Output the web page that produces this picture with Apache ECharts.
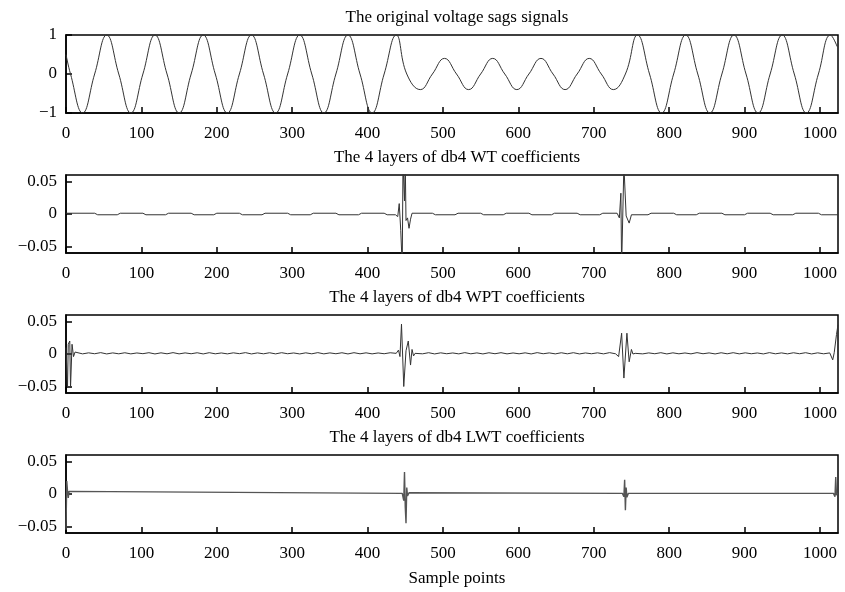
<!DOCTYPE html>
<html>
<head>
<meta charset="utf-8">
<title>Voltage sags and wavelet coefficients</title>
<script src="https://cdn.jsdelivr.net/npm/echarts@6/dist/echarts.min.js"></script>
<style>
  html, body { margin: 0; padding: 0; background: #fff; }
  #myChart { width: 845px; height: 592px; }
</style>
</head>
<body>
<div id="myChart"></div>
<script>
// tick labels
const sampleTicks = [0, 100, 200, 300, 400, 500, 600, 700, 800, 900, 1000];
const voltTicks = [-1, 0, 1];
const coefTicks = [-0.05, 0, 0.05];

const panelTitles = [
  "The original voltage sags signals",
  "The 4 layers of db4 WT coefficients",
  "The 4 layers of db4 WPT coefficients",
  "The 4 layers of db4 LWT coefficients"
];
const xName = "Sample points";

// original signal: peaks, troughs and zero crossings
const voltage = [
  [0, 0.5], [6, 0], [22, -1], [38, 0], [54, 1], [70, 0], [86, -1], [102, 0], [118, 1],
  [134, 0], [150, -1], [166, 0], [182, 1], [198, 0], [214, -1], [230, 0], [246, 1],
  [262, 0], [278, -1], [294, 0], [310, 1], [326, 0], [342, -1], [358, 0], [374, 1],
  [390, 0], [406, -1], [422, 0], [438, 1], [452, 0],
  [470, -0.4], [486, 0], [502, 0.4], [518, 0], [534, -0.4], [550, 0], [566, 0.4],
  [582, 0], [598, -0.4], [614, 0], [630, 0.4], [646, 0], [662, -0.4], [678, 0],
  [694, 0.4], [710, 0], [726, -0.4], [742, 0],
  [758, 1], [774, 0], [790, -1], [806, 0], [822, 1], [838, 0], [854, -1], [870, 0],
  [886, 1], [902, 0], [918, -1], [934, 0], [950, 1], [966, 0], [982, -1], [998, 0],
  [1014, 1], [1023, 0.7]
];

// WT coefficients
const wtCoef = [
  [0, 0.0012], [38, 0.0012], [42, -0.0012], [68, -0.0012], [72, 0.0012],
  [102, 0.0012], [106, -0.0012], [132, -0.0012], [136, 0.0012],
  [166, 0.0012], [170, -0.0012], [196, -0.0012], [200, 0.0012],
  [230, 0.0012], [234, -0.0012], [260, -0.0012], [264, 0.0012],
  [294, 0.0012], [298, -0.0012], [324, -0.0012], [328, 0.0012],
  [358, 0.0012], [362, -0.0012], [388, -0.0012], [392, 0.0012],
  [422, 0.0012], [426, -0.0012], [437, -0.0012],
  [440, -0.004], [442, 0.016], [444, -0.025], [446, -0.08], [447, 0.08], [449, 0.02],
  [450, 0.08], [451, -0.01], [453, -0.006], [455, -0.022], [457, -0.008], [459, 0.0012],
  [486, 0.0012], [490, -0.0012], [516, -0.0012], [520, 0.0012],
  [550, 0.0012], [554, -0.0012], [580, -0.0012], [584, 0.0012],
  [614, 0.0012], [618, -0.0012], [644, -0.0012], [648, 0.0012],
  [678, 0.0012], [682, -0.0012], [708, -0.0012], [712, 0.0012], [731, 0.0012],
  [734, -0.006], [736, 0.032], [737, -0.08], [740, 0.075], [743, -0.003], [745, -0.002],
  [747, -0.014], [750, -0.0012],
  [772, -0.0012], [776, 0.0012], [806, 0.0012], [810, -0.0012], [836, -0.0012], [840, 0.0012],
  [870, 0.0012], [874, -0.0012], [900, -0.0012], [904, 0.0012],
  [934, 0.0012], [938, -0.0012], [964, -0.0012], [968, 0.0012],
  [998, 0.0012], [1002, -0.0012], [1024, -0.0012]
];

// WPT coefficients: transients and the small ripple between them
const wptStart = [[0, 0.01], [2, -0.052], [3, 0.015], [5, 0.02], [6, -0.052], [8, 0.015], [10, -0.004], [12, 0.003]];
const wptRippleA = [
  0.0020, 0.0002, 0.0018, 0.0004, 0.0021, 0.0001, 0.0017, 0.0003, 0.0019, 0.0002,
  0.0016, 0.0005, 0.0020, 0.0001, 0.0018, 0.0003, 0.0021, 0.0002, 0.0017, 0.0004,
  0.0019, 0.0001, 0.0020, 0.0003, 0.0016, 0.0002, 0.0018, 0.0005, 0.0021, 0.0001,
  0.0017, 0.0003, 0.0019, 0.0002, 0.0020, 0.0004, 0.0016, 0.0001, 0.0018, 0.0003,
  0.0021, 0.0002, 0.0017, 0.0004, 0.0019, 0.0001, 0.0020, 0.0003, 0.0018, 0.0002,
  0.0016, 0.0004, 0.0019
];
const wptSag1 = [[438, 0.001], [441, 0.006], [443, -0.004], [445, 0.046], [448, -0.05], [451, 0.005], [454, 0.02], [457, -0.017], [459, 0.007], [461, -0.003], [463, 0.001]];
const wptRippleB = [
  0.0017, 0.0003, 0.0020, 0.0001, 0.0018, 0.0004, 0.0016, 0.0002, 0.0021, 0.0003,
  0.0017, 0.0001, 0.0019, 0.0004, 0.0020, 0.0002, 0.0016, 0.0003, 0.0018, 0.0001,
  0.0021, 0.0004, 0.0017, 0.0002, 0.0019, 0.0003, 0.0020, 0.0001, 0.0016, 0.0004,
  0.0018, 0.0002, 0.0021, 0.0003
];
const wptSag2 = [[731, 0.001], [733, -0.004], [737, 0.032], [740, -0.037], [744, 0.032], [747, -0.012], [750, 0.007], [752, 0.0], [755, 0.001]];
const wptRippleC = [
  0.0019, 0.0002, 0.0017, 0.0004, 0.0020, 0.0001, 0.0018, 0.0003, 0.0016, 0.0002,
  0.0021, 0.0004, 0.0017, 0.0001, 0.0019, 0.0003, 0.0020, 0.0002, 0.0018, 0.0004,
  0.0016, 0.0001, 0.0021, 0.0003, 0.0017, 0.0002, 0.0019, 0.0004, 0.0020, 0.0001,
  0.0018, 0.0003, 0.0017
];
const wptEnd = [[1015, 0.001], [1017, -0.009], [1019, 0.002], [1022, 0.03], [1024, 0.045]];

// LWT coefficients
const lwtCoef = [
  [0, -0.055], [1, 0.02], [2, 0.005], [3, -0.006], [4, 0.004], [6, 0.001],
  [446, 0.001], [448, -0.01], [449, 0.034], [450, -0.02], [451, -0.045], [452, 0.01],
  [453, -0.003], [455, 0.002], [457, 0.001],
  [738, 0.001], [740, -0.004], [741, 0.022], [742, -0.025], [743, 0.01], [744, -0.005], [746, 0.001],
  [1018, 0.001], [1020, -0.004], [1021, 0.026], [1022, -0.002], [1023, 0.002]
];

// ripple samples were read every 8 points
function ripple(start, vals) {
  return vals.map((v, i) => [start + i * 8, v]);
}
const wptCoef = [].concat(
  wptStart, ripple(14, wptRippleA), wptSag1, ripple(465, wptRippleB),
  wptSag2, ripple(757, wptRippleC), wptEnd
);

const font = "Liberation Serif";
const minus = v => String(v).replace("-", "\u2212");
const panelTops = [35, 175, 315, 455];
const seriesData = [voltage, wtCoef, wptCoef, lwtCoef];
const textStyle = { fontFamily: font, fontSize: 17, fontWeight: "normal", color: "#000" };

let myChart = echarts.init(document.getElementById("myChart"));

let option = {
  animation: false,
  backgroundColor: "#fff",
  title: panelTitles.map((t, i) => ({
    text: t,
    left: 452,
    top: panelTops[i] - 31,
    textAlign: "center",
    textStyle: textStyle
  })).concat([{
    text: xName,
    left: 452,
    top: 565,
    textAlign: "center",
    textStyle: textStyle
  }]),
  grid: panelTops.map(t => ({
    left: 66, right: 7, top: t, height: 78,
    show: true, borderColor: "#000", borderWidth: 1.5, backgroundColor: "transparent"
  })),
  xAxis: panelTops.map((t, i) => ({
    type: "value",
    gridIndex: i,
    min: 0,
    max: 1024,
    axisLine: { show: true, onZero: false, lineStyle: { color: "#000", width: 1.5 } },
    axisTick: { show: true, inside: true, length: 6, customValues: sampleTicks, lineStyle: { color: "#000", width: 1.5 } },
    axisLabel: { customValues: sampleTicks, margin: 12, color: "#000", fontFamily: font, fontSize: 17, formatter: v => String(v) },
    splitLine: { show: false }
  })),
  yAxis: panelTops.map((t, i) => {
    const ticks = i === 0 ? voltTicks : coefTicks;
    return {
      type: "value",
      gridIndex: i,
      min: i === 0 ? -1 : -0.06,
      max: i === 0 ? 1 : 0.06,
      axisLine: { show: true, lineStyle: { color: "#000", width: 1.5 } },
      axisTick: { show: true, inside: true, length: 6, customValues: ticks, lineStyle: { color: "#000", width: 1.5 } },
      axisLabel: { customValues: ticks, margin: 9, color: "#000", fontFamily: font, fontSize: 17, formatter: minus },
      splitLine: { show: false }
    };
  }),
  series: seriesData.map((d, i) => ({
    type: "line",
    xAxisIndex: i,
    yAxisIndex: i,
    data: d,
    showSymbol: false,
    smooth: i === 0 ? 0.45 : false,
    clip: true,
    lineStyle: { color: i === 3 ? "#555" : "#333", width: i === 3 ? 1.4 : 1 }
  }))
};

myChart.setOption(option);

window.addEventListener("resize", () => {
  myChart.resize();
});
</script>
</body>
</html>
